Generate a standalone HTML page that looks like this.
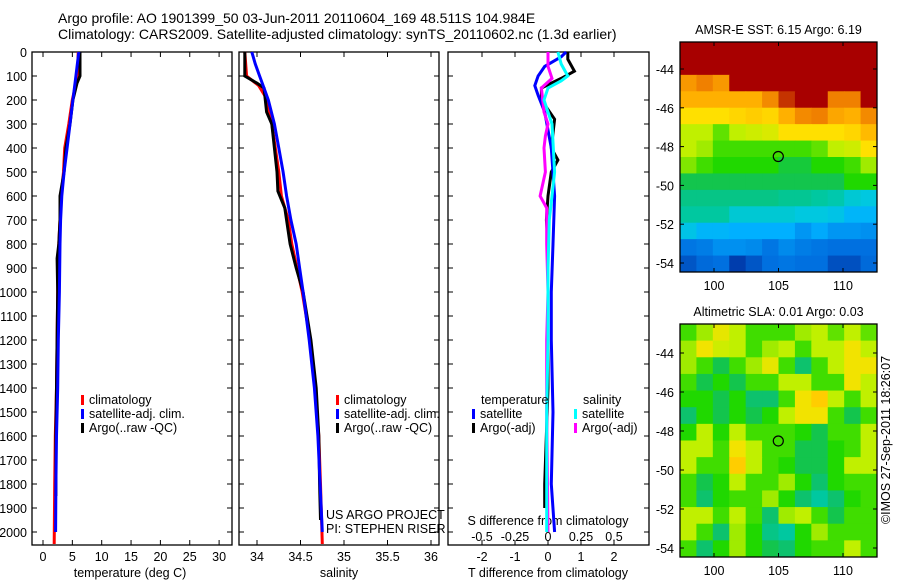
<!DOCTYPE html>
<html><head><meta charset="utf-8"><style>
body{margin:0;background:#fff}
svg text{font-family:"Liberation Sans",sans-serif;font-size:12.5px;fill:#000}
svg text.title{font-size:14px}
</style></head><body>
<svg id="fig" width="900" height="580" viewBox="0 0 900 580">
<text class="title" x="58" y="23">Argo profile: AO 1901399_50 03-Jun-2011 20110604_169 48.511S 104.984E</text>
<text class="title" x="58" y="39">Climatology: CARS2009. Satellite-adjusted climatology: synTS_20110602.nc (1.3d earlier)</text>
<g id="g"></g>
</svg>
<script>
// ---- data ----
const depthTicks=[0,100,200,300,400,500,600,700,800,900,1000,1100,1200,1300,1400,1500,1600,1700,1800,1900,2000];
const tempTicks=[0,5,10,15,20,25,30];
const salTicks=[34,34.5,35,35.5,36];
const salTickLabels=["34","34.5","35","35.5","36"];
const tdTicks=[-2,-1,0,1,2];
const sdTicks=[-0.5,-0.25,0,0.25,0.5];
const sdTickLabels=["-0.5","-0.25","0","0.25","0.5"];
const lonTicks=[100,105,110];
const latTicks=[-44,-46,-48,-50,-52,-54];

const tArgoD=[0,100,130,200,300,400,500,600,700,800,860,1000,1200,1400,1600,1850];
const tArgoV=[6.3,6.3,5.8,5.1,4.6,3.9,3.6,2.9,2.9,2.7,2.4,2.5,2.4,2.3,2.2,2.2];
const tClimD=[0,100,200,300,400,500,600,700,800,1000,1200,1400,1600,1800,2050];
const tClimV=[6.0,5.9,5.0,4.4,3.7,3.5,3.1,2.9,2.7,2.5,2.4,2.3,2.1,2.0,1.9];
const tSatD=[0,100,200,300,400,500,600,700,800,1000,1200,1400,1600,1800,2000];
const tSatV=[6.1,5.6,5.1,4.6,4.1,3.6,3.2,3.0,2.9,2.8,2.6,2.5,2.3,2.2,2.15];

const sArgoD=[0,100,130,150,250,300,400,500,580,650,800,900,1000,1200,1400,1600,1800,1950];
const sArgoV=[33.86,33.86,34.0,34.08,34.11,34.17,34.2,34.23,34.24,34.32,34.38,34.45,34.53,34.62,34.68,34.71,34.72,34.73];
const sClimD=[0,100,140,200,300,400,500,600,700,800,1000,1200,1400,1600,1800,2050];
const sClimV=[33.86,33.88,34.02,34.12,34.17,34.21,34.25,34.28,34.36,34.4,34.52,34.61,34.67,34.71,34.73,34.75];
const sSatD=[0,50,100,150,200,300,400,500,600,700,800,900,1000,1200,1400,1600,2000];
const sSatV=[33.94,33.98,34.03,34.08,34.13,34.2,34.25,34.3,34.34,34.39,34.45,34.49,34.53,34.6,34.66,34.7,34.75];

const dTSatD=[0,20,60,100,140,180,250,400,600,800,1000,1200,1500,1800,2000];
const dTSatV=[0.55,0.4,-0.1,-0.3,-0.4,-0.3,-0.1,0.1,0.2,0.15,0.1,0.1,0.15,0.1,0.2];
const dTArgoD=[0,30,80,110,150,200,280,400,450,500,600,700,800,1000,1400,1800,1900];
const dTArgoV=[0.6,0.6,0.8,0.4,-0.2,-0.2,0.2,0.1,0.3,0.1,0,-0.05,0,0,0,-0.1,-0.1];
const dSSatD=[0,50,100,120,150,200,300,400,500,600,700,900,1200,1500,2000];
const dSSatV=[0.075,0.1,0.15,0.1,0,-0.03,0.03,0.04,0.05,0.03,0.01,0,0,-0.01,-0.01];
const dSArgoD=[0,60,110,150,250,300,350,400,500,600,650,800,1000,1200,1500,2000];
const dSArgoV=[0,0,0.03,-0.05,-0.03,0,-0.02,-0.03,-0.02,-0.06,-0.01,-0.01,0,-0.01,-0.01,0];

const sstGrid=[
[10,10,10,10,10,10,10,10,10,10,10,10],
[10,10,10,10,10,10,10,10,10,10,10,10],
[8.5,9,8.5,10,10,10,10,10,10,10,10,10],
[8,8,8,8,8,8.8,9.6,10,10,9,9,10],
[7,7,7,7.2,7.4,7.2,8,8.8,9,8.2,8,8.8],
[6,6,5.4,6,6.2,6.4,7,7,7,7,7.2,7.8],
[6,5.8,5.2,5.2,5.2,5.2,5.2,5.2,5.4,6,6.2,7],
[5.6,5.2,5,5,5,5,4.7,4.7,5,5,5.2,5.8],
[4.6,4.6,4.6,4.6,4.6,4.6,4.6,4.6,4.6,4.6,5,5],
[4.2,4.2,4.2,4.2,4.2,4.2,4.1,4.1,4,3.9,3.6,3.5],
[4,4,4,3.6,3.6,3.6,3.6,3.5,3.5,3.4,3.1,3.1],
[3.4,3.1,3.1,3,3,3,3,2.6,2.9,2.6,2.6,2.5],
[2.1,2.2,2.5,2.5,2.4,2.1,2.4,2.2,2.1,2,2,2],
[1.6,1.9,2,1.2,1.6,2,2.1,2,2,1.5,1.5,1.9]];
const slaGrid=[
[5.2,5.8,6.6,6,5.2,5.2,5.2,5.8,6,5.4,6,5.4],
[5.8,6.8,6.2,6,5.2,5.8,6,5.2,6,6,6.8,6],
[5.8,5.2,4.6,5.2,5.8,6.6,5.2,4.4,5.2,6,6.8,6.8],
[5.2,4.6,5,4.6,5.2,5.2,6,6,5.2,5.2,6.8,6],
[5,5,4.6,5,4.4,4.4,5.2,6.8,7.4,6,5.2,6],
[4.4,5,4.6,5,4.6,5,6,6.8,6.8,5.2,4.6,5.2],
[5,6,5,6,5.2,5.2,5.2,5,4.6,5.2,5.2,6],
[6,6,5.2,6.8,6,5.2,5.2,4.6,4.6,5,5.2,6],
[6,5.2,5.2,7.4,6,5.2,5,4.6,4.6,5,6,6],
[5.2,4.6,5,6,5.2,5.2,5.8,5,4.4,5,5.2,5.2],
[5.2,4.4,5,5.2,5.2,5.8,5,4.4,4,4.4,5,5.2],
[6,6,5.2,6,5.2,4.4,5.8,6,5.2,4.6,5.2,5.2],
[6,5.2,4.4,5.8,5,4.2,4,5,5.8,5.2,5.2,5.2],
[5.2,4.4,5,5.8,5,4.6,4.4,5,5.2,5.2,6,5.2]];

// ---- drawing ----
const NS="http://www.w3.org/2000/svg";
const G=document.getElementById('g');
function el(t,a,p){const e=document.createElementNS(NS,t);for(const k in a)e.setAttribute(k,a[k]);(p||G).appendChild(e);return e;}
function txt(x,y,s,anchor){const e=el('text',{x:x,y:y,'text-anchor':anchor||'start'});e.textContent=s;return e;}
const yD=d=>52+d*0.24;
const TOP=52,BOT=545;

function panel(x0,x1,name){
  const r=el('rect',{x:x0,y:TOP,width:x1-x0,height:BOT-TOP,fill:'none',stroke:'#000','stroke-width':1.3});
  
  
  depthTicks.forEach(d=>{el('line',{x1:x0,x2:x0+5,y1:yD(d),y2:yD(d),stroke:'#000'});el('line',{x1:x1,x2:x1-5,y1:yD(d),y2:yD(d),stroke:'#000'});});
}
function line(D,V,fx,color,w,name){
  let s='';D.forEach((d,i)=>{s+=(i?'L':'M')+fx(V[i]).toFixed(1)+','+yD(d).toFixed(1);});
  const p=el('path',{d:s,fill:'none',stroke:color,'stroke-width':w});
  
  
}
function legend(x,y,items){
  items.forEach((it,i)=>{el('rect',{x:x,y:y+i*14-9,width:3,height:10,fill:it[1]});const t=txt(x+8,y+i*14,it[0]);
  
  });
}

// panel 1 temperature
const xT=v=>43+v*5.87;
panel(32,232,'temperature-axes');
depthTicks.forEach(d=>{const t=txt(27,yD(d)+5,String(d),'end');
  
  });
tempTicks.forEach(v=>{el('line',{x1:xT(v),x2:xT(v),y1:BOT,y2:BOT-5,stroke:'#000'});el('line',{x1:xT(v),x2:xT(v),y1:TOP,y2:TOP+5,stroke:'#000'});
  const t=txt(xT(v),561,String(v),'middle');
  
  });
const tl=txt(130,577,'temperature (deg C)','middle');


line(tClimD,tClimV,xT,'#f00',3,'temp-climatology-line');
line(tArgoD,tArgoV,xT,'#000',3,'temp-argo-line');
line(tSatD,tSatV,xT,'#00f',3,'temp-satellite-line');
legend(81,404,[['climatology','#f00'],['satellite-adj. clim.','#00f'],['Argo(..raw -QC)','#000']]);

// panel 2 salinity
const xS=v=>257+(v-34)*87;
panel(239,439,'salinity-axes');
salTicks.forEach((v,i)=>{el('line',{x1:xS(v),x2:xS(v),y1:BOT,y2:BOT-5,stroke:'#000'});el('line',{x1:xS(v),x2:xS(v),y1:TOP,y2:TOP+5,stroke:'#000'});
  const t=txt(xS(v),561,salTickLabels[i],'middle');
  
  });
const sl=txt(339,577,'salinity','middle');


line(sClimD,sClimV,xS,'#f00',3,'sal-climatology-line');
line(sArgoD,sArgoV,xS,'#000',3,'sal-argo-line');
line(sSatD,sSatV,xS,'#00f',3,'sal-satellite-line');
legend(336,404,[['climatology','#f00'],['satellite-adj. clim.','#00f'],['Argo(..raw -QC)','#000']]);
txt(326,519,'US ARGO PROJECT');txt(326,533,'PI: STEPHEN RISER');

// panel 3 differences
const xTd=v=>548+v*33;
const xSd=v=>548+v*132;
panel(448,649,'difference-axes');
tdTicks.forEach(v=>{el('line',{x1:xTd(v),x2:xTd(v),y1:BOT,y2:BOT-5,stroke:'#000'});el('line',{x1:xTd(v),x2:xTd(v),y1:TOP,y2:TOP+5,stroke:'#000'});
  const t=txt(xTd(v),561,String(v),'middle');
  
  });
sdTicks.forEach((v,i)=>{const t=txt(xSd(v),541,sdTickLabels[i],'middle');
  
  });
txt(548,525,'S difference from climatology','middle');
txt(548,577,'T difference from climatology','middle');
line(dTArgoD,dTArgoV,xTd,'#000',3,'t-diff-argo-line');
line(dTSatD,dTSatV,xTd,'#00f',3,'t-diff-satellite-line');
line(dSArgoD,dSArgoV,xSd,'#f0f',3,'s-diff-argo-line');
line(dSSatD,dSSatV,xSd,'#0ff',3,'s-diff-satellite-line');
txt(481,404,'temperature');txt(583,404,'salinity');
legend(472,418,[['satellite','#00f'],['Argo(-adj)','#000']]);
legend(574,418,[['satellite','#0ff'],['Argo(-adj)','#f0f']]);

// maps
const stops=[[1,[0,48,160]],[2,[0,112,224]],[3,[0,176,255]],[3.5,[0,200,224]],[4,[0,200,160]],[4.5,[16,192,96]],[5,[32,216,0]],[6,[192,240,0]],[7,[255,224,0]],[8,[255,176,0]],[9,[240,128,0]],[10,[168,0,0]]];
function col(v){
  if(v<=stops[0][0])return 'rgb('+stops[0][1]+')';
  for(let i=1;i<stops.length;i++){if(v<=stops[i][0]){const a=stops[i-1],b=stops[i],f=(v-a[0])/(b[0]-a[0]);
    return 'rgb('+a[1].map((c,k)=>Math.round(c+(b[1][k]-c)*f)).join(',')+')';}}
  return 'rgb('+stops[stops.length-1][1]+')';
}
function map(y0,y1,latA,latB,grid,title,name){
  const x0=680,x1=877;
  const lx=v=>714+(v-100)*12.9;
  const ly=v=>latA[1]+(v-latA[0])*(latB[1]-latA[1])/(latB[0]-latA[0]);
  const rows=grid.length,cols=grid[0].length,cw=(x1-x0)/cols,ch=(y1-y0)/rows;
  grid.forEach((r,i)=>r.forEach((v,j)=>{const c=el('rect',{x:x0+j*cw,y:y0+i*ch,width:cw+0.5,height:ch+0.5,fill:col(v)});
    
    }));
  const b=el('rect',{x:x0,y:y0,width:x1-x0,height:y1-y0,fill:'none',stroke:'#000','stroke-width':1.3});
  
  
  lonTicks.forEach(v=>{el('line',{x1:lx(v),x2:lx(v),y1:y1,y2:y1-4,stroke:'#000'});el('line',{x1:lx(v),x2:lx(v),y1:y0,y2:y0+4,stroke:'#000'});txt(lx(v),y1+18,String(v),'middle');});
  latTicks.forEach(v=>{el('line',{x1:x0,x2:x0+4,y1:ly(v),y2:ly(v),stroke:'#000'});el('line',{x1:x1,x2:x1-4,y1:ly(v),y2:ly(v),stroke:'#000'});txt(x0-6,ly(v)+5,String(v),'end');});
  const t=txt((x0+x1)/2,y0-8,title,'middle');
  
  
  const m=el('circle',{cx:lx(104.984),cy:ly(-48.511),r:5,fill:'none',stroke:'#000','stroke-width':1.2});
  
  
}
map(42,272,[-44,69],[-54,263],sstGrid,'AMSR-E SST: 6.15 Argo: 6.19','sst-map');
map(324,557,[-44,353],[-54,548],slaGrid,'Altimetric SLA: 0.01 Argo: 0.03','sla-map');
const cr=txt(0,0,'©IMOS 27-Sep-2011 18:26:07','middle');
cr.setAttribute('transform','translate(890,440) rotate(-90)');


</script>
</body></html>
